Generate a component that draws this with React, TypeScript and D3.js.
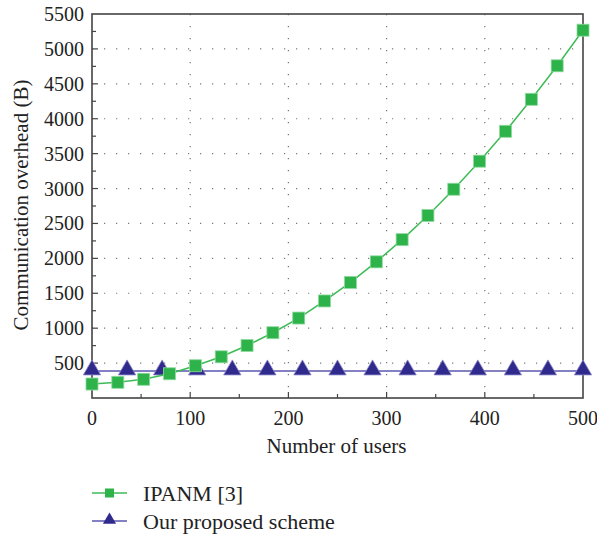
import React, { useRef, useEffect } from "react";
import * as d3 from "d3";

// IPANM [3]: 20 samples over 0..500 users
const ipanmUsers = [0, 26.3, 52.6, 78.9, 105.3, 131.6, 157.9, 184.2, 210.5, 236.8, 263.2, 289.5, 315.8, 342.1, 368.4, 394.7, 421.1, 447.4, 473.7, 500];
const ipanmValues = [200, 225, 268, 347, 462, 590, 752, 935, 1145, 1390, 1655, 1950, 2268, 2615, 2990, 3392, 3820, 4278, 4758, 5268];

// Our proposed scheme: 15 samples
const oursUsers = [0, 35.7, 71.4, 107.1, 142.9, 178.6, 214.3, 250, 285.7, 321.4, 357.1, 392.9, 428.6, 464.3, 500];
const oursValues = [388, 388, 388, 388, 388, 388, 388, 388, 388, 388, 388, 388, 388, 388, 388];

const xTicks = [0, 100, 200, 300, 400, 500];
const yTicks = [500, 1000, 1500, 2000, 2500, 3000, 3500, 4000, 4500, 5000, 5500];

const seriesNames = ["IPANM [3]", "Our proposed scheme"];

function App() {
  const ref = useRef(null);

  useEffect(() => {
    const svg = d3.select(ref.current);
    svg.selectAll("*").remove();

    const font = "Liberation Serif, DejaVu Serif, serif";
    const margin = { top: 14, left: 92, right: 14, bottom: 137 };
    const width = 597;
    const height = 535;
    const innerW = width - margin.left - margin.right;
    const innerH = height - margin.top - margin.bottom;

    const x = d3.scaleLinear().domain([0, 500]).range([0, innerW]);
    const y = d3.scaleLinear().domain([0, 5500]).range([innerH, 0]);

    const g = svg.append("g").attr("transform", `translate(${margin.left},${margin.top})`);

    // dotted grid on major ticks
    g.selectAll(".vgrid")
      .data(xTicks.filter((t) => t > 0 && t < 500))
      .enter()
      .append("line")
      .attr("x1", (d) => x(d))
      .attr("x2", (d) => x(d))
      .attr("y1", 0)
      .attr("y2", innerH)
      .attr("stroke", "#777")
      .attr("stroke-width", 1.2)
      .attr("stroke-dasharray", "1.2,10.8");
    g.selectAll(".hgrid")
      .data(yTicks.filter((t) => t < 5500))
      .enter()
      .append("line")
      .attr("x1", 0)
      .attr("x2", innerW)
      .attr("y1", (d) => y(d))
      .attr("y2", (d) => y(d))
      .attr("stroke", "#777")
      .attr("stroke-width", 1.2)
      .attr("stroke-dasharray", "1.2,10.8");

    // frame
    g.append("rect")
      .attr("width", innerW)
      .attr("height", innerH)
      .attr("fill", "none")
      .attr("stroke", "#444")
      .attr("stroke-width", 1.6);

    // inward ticks
    const yMinor = d3.range(250, 5500, 250);
    g.selectAll(".ytick")
      .data(yMinor)
      .enter()
      .append("line")
      .attr("x1", 0)
      .attr("x2", (d) => (d % 500 === 0 ? 6 : 4))
      .attr("y1", (d) => y(d))
      .attr("y2", (d) => y(d))
      .attr("stroke", "#444")
      .attr("stroke-width", 1.2);
    const xMinor = d3.range(50, 500, 50);
    g.selectAll(".xtick")
      .data(xMinor)
      .enter()
      .append("line")
      .attr("x1", (d) => x(d))
      .attr("x2", (d) => x(d))
      .attr("y1", innerH)
      .attr("y2", (d) => innerH - (d % 100 === 0 ? 6 : 4))
      .attr("stroke", "#444")
      .attr("stroke-width", 1.2);

    const txt = (sel, fs) =>
      sel.style("font-family", font).style("font-size", fs + "px").attr("fill", "#222");

    // tick labels
    g.selectAll(".ylab")
      .data(yTicks)
      .enter()
      .append("text")
      .attr("x", -8)
      .attr("y", (d) => y(d))
      .attr("dy", "0.35em")
      .attr("text-anchor", "end")
      .call(txt, 20)
      .text((d) => d);
    g.selectAll(".xlab")
      .data(xTicks)
      .enter()
      .append("text")
      .attr("x", (d) => x(d))
      .attr("y", innerH + 27)
      .attr("text-anchor", "middle")
      .call(txt, 20)
      .text((d) => d);

    // axis titles
    g.append("text")
      .attr("x", innerW / 2 - 1)
      .attr("y", innerH + 55)
      .attr("text-anchor", "middle")
      .call(txt, 21)
      .text("Number of users");
    g.append("text")
      .attr("transform", `translate(${-64},${innerH / 2 - 1}) rotate(-90)`)
      .attr("text-anchor", "middle")
      .call(txt, 21)
      .text("Communication overhead (B)");

    const line = d3
      .line()
      .x((d) => x(d[0]))
      .y((d) => y(d[1]));

    const ours = oursUsers.map((u, i) => [u, oursValues[i]]);
    const ipanm = ipanmUsers.map((u, i) => [u, ipanmValues[i]]);

    const triangle = d3.symbol().type(d3.symbolTriangle).size(130);

    // proposed scheme
    g.append("path")
      .attr("d", line(ours))
      .attr("fill", "none")
      .attr("stroke", "#5a56b0")
      .attr("stroke-width", 1.5);
    g.selectAll(".tri")
      .data(ours)
      .enter()
      .append("path")
      .attr("d", triangle())
      .attr("transform", (d) => `translate(${x(d[0])},${y(d[1]) - 1})`)
      .attr("fill", "#2f2a8c")
      .attr("stroke", "#8a86c8")
      .attr("stroke-width", 0.8);

    // IPANM
    g.append("path")
      .attr("d", line(ipanm))
      .attr("fill", "none")
      .attr("stroke", "#3dbb55")
      .attr("stroke-width", 1.5);
    g.selectAll(".sq")
      .data(ipanm)
      .enter()
      .append("rect")
      .attr("x", (d) => x(d[0]) - 6)
      .attr("y", (d) => y(d[1]) - 6)
      .attr("width", 12)
      .attr("height", 12)
      .attr("fill", "#2db34a")
      .attr("stroke", "#8fd99f")
      .attr("stroke-width", 0.8);

    // legend
    const legend = svg.append("g");
    const rows = [
      { name: seriesNames[0], color: "#3dbb55", fill: "#2db34a", shape: "square", ly: 493 },
      { name: seriesNames[1], color: "#5a56b0", fill: "#2f2a8c", shape: "tri", ly: 521 },
    ];
    rows.forEach((r) => {
      legend
        .append("line")
        .attr("x1", 92)
        .attr("x2", 127)
        .attr("y1", r.ly)
        .attr("y2", r.ly)
        .attr("stroke", r.color)
        .attr("stroke-width", 1.5);
      if (r.shape === "square") {
        legend
          .append("rect")
          .attr("x", 109.5 - 4.5)
          .attr("y", r.ly - 4.5)
          .attr("width", 9)
          .attr("height", 9)
          .attr("fill", r.fill);
      } else {
        legend
          .append("path")
          .attr("d", d3.symbol().type(d3.symbolTriangle).size(75)())
          .attr("transform", `translate(109.5,${r.ly - 1})`)
          .attr("fill", r.fill);
      }
      legend
        .append("text")
        .attr("x", 143)
        .attr("y", r.ly)
        .attr("dy", "0.35em")
        .call(txt, 22)
        .text(r.name);
    });
  });

  return (
    <svg
      ref={ref}
      width="597"
      height="535"
      style={{ position: "absolute", left: 0, top: 0, background: "#fff" }}
    ></svg>
  );
}

export default App;
